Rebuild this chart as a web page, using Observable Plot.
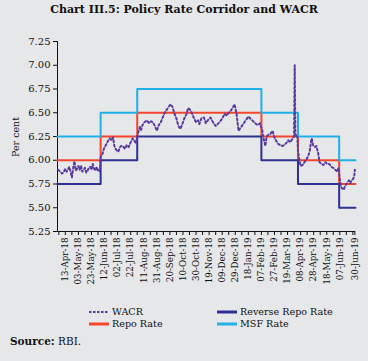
<!DOCTYPE html>
<html>
<head>
<meta charset="utf-8">
<script src="https://cdn.jsdelivr.net/npm/d3@7"></script>
<script src="https://cdn.jsdelivr.net/npm/@observablehq/plot@0.6"></script>
<style>
  html, body { margin: 0; padding: 0; background: #e6e7e9; }
  #wrap { position: relative; width: 368px; height: 361px; background: #e6e7e9; overflow: hidden; font-family: "DejaVu Serif", serif; color: #111; }
  #title { position: absolute; left: 0; width: 368px; top: 3px; text-align: center; font-weight: bold; font-size: 11px; }
  #chart { position: absolute; left: 0; top: 22px; }
  #ylab { position: absolute; left: 15px; top: 137px; transform: translate(-50%, -50%) rotate(-90deg); font-size: 9.5px; white-space: nowrap; }
  .leg { position: absolute; font-size: 9.6px; white-space: nowrap; display: flex; align-items: center; }
  .leg svg { margin-right: 3px; }
  #source { position: absolute; left: 10px; top: 335px; font-size: 10.5px; }
</style>
</head>
<body>
<div id="wrap">
  <div id="title">Chart III.5: Policy Rate Corridor and WACR</div>
  <div id="ylab">Per cent</div>
  <div id="chart"></div>
  <div id="legend"></div>
  <div id="source"><b>Source:</b> RBI.</div>
</div>
<script>
// ---- Data ----
const wacrDates = [
  "2018-04-02","2018-04-05","2018-04-08","2018-04-10","2018-04-13","2018-04-15","2018-04-17","2018-04-19","2018-04-21","2018-04-23",
  "2018-04-25","2018-04-27","2018-04-29","2018-05-01","2018-05-03","2018-05-05","2018-05-07","2018-05-09","2018-05-11","2018-05-13",
  "2018-05-15","2018-05-17","2018-05-19","2018-05-21","2018-05-23","2018-05-25","2018-05-27","2018-05-29","2018-05-31","2018-06-02",
  "2018-06-04","2018-06-05",
  "2018-06-06","2018-06-09","2018-06-11","2018-06-14","2018-06-17","2018-06-20","2018-06-23","2018-06-25","2018-06-27","2018-06-29",
  "2018-07-01","2018-07-03","2018-07-05","2018-07-07","2018-07-10","2018-07-13","2018-07-16","2018-07-19","2018-07-22","2018-07-25",
  "2018-07-28","2018-07-30","2018-07-31",
  "2018-08-02","2018-08-05","2018-08-07","2018-08-09","2018-08-12","2018-08-16","2018-08-19","2018-08-22","2018-08-25","2018-08-28",
  "2018-08-31","2018-09-03","2018-09-06","2018-09-09","2018-09-12","2018-09-15","2018-09-18","2018-09-21","2018-09-24","2018-09-27",
  "2018-09-30","2018-10-03","2018-10-06","2018-10-09","2018-10-12","2018-10-15","2018-10-18","2018-10-21","2018-10-24","2018-10-27",
  "2018-10-30","2018-11-02","2018-11-04","2018-11-07","2018-11-11","2018-11-14","2018-11-17","2018-11-21","2018-11-25","2018-11-29",
  "2018-12-02","2018-12-05","2018-12-09","2018-12-13","2018-12-16","2018-12-19","2018-12-22","2018-12-25","2018-12-28","2018-12-31",
  "2019-01-03","2019-01-06","2019-01-09","2019-01-12","2019-01-15","2019-01-18","2019-01-21","2019-01-24","2019-01-27","2019-01-30",
  "2019-02-02","2019-02-05","2019-02-06",
  "2019-02-08","2019-02-10","2019-02-13","2019-02-15","2019-02-18","2019-02-21","2019-02-24","2019-02-27","2019-03-02","2019-03-05",
  "2019-03-08","2019-03-11","2019-03-14","2019-03-17","2019-03-20","2019-03-23","2019-03-26","2019-03-29","2019-03-30","2019-03-31",
  "2019-04-02","2019-04-03",
  "2019-04-04","2019-04-06","2019-04-08","2019-04-11","2019-04-14","2019-04-17","2019-04-20","2019-04-22","2019-04-24","2019-04-25",
  "2019-04-27","2019-04-30","2019-05-02","2019-05-05","2019-05-07","2019-05-10","2019-05-13","2019-05-16","2019-05-19","2019-05-22",
  "2019-05-25","2019-05-28","2019-05-31","2019-06-03","2019-06-05",
  "2019-06-07","2019-06-09","2019-06-11","2019-06-13","2019-06-15","2019-06-18","2019-06-21","2019-06-23","2019-06-25","2019-06-27",
  "2019-06-29","2019-06-30"
];
const wacrValues = [
  5.90,5.88,5.86,5.87,5.91,5.88,5.90,5.93,5.88,5.82,
  5.92,5.99,5.89,5.91,5.94,5.90,5.94,5.88,5.90,5.92,
  5.87,5.89,5.92,5.93,5.90,5.96,5.91,5.89,5.93,5.89,
  5.88,5.91,
  6.03,6.07,6.12,6.16,6.20,6.23,6.21,6.24,6.15,6.12,
  6.10,6.09,6.13,6.15,6.15,6.12,6.16,6.14,6.19,6.23,
  6.20,6.18,6.21,
  6.28,6.35,6.32,6.37,6.40,6.42,6.39,6.41,6.40,6.36,
  6.31,6.37,6.40,6.45,6.50,6.53,6.56,6.59,6.56,6.49,
  6.44,6.36,6.33,6.38,6.44,6.48,6.55,6.53,6.49,6.44,
  6.40,6.42,6.38,6.44,6.45,6.39,6.42,6.45,6.40,6.36,
  6.38,6.40,6.44,6.49,6.47,6.50,6.52,6.55,6.59,6.49,
  6.31,6.34,6.37,6.40,6.43,6.46,6.44,6.42,6.40,6.38,
  6.37,6.39,6.36,
  6.33,6.24,6.15,6.25,6.27,6.28,6.31,6.24,6.20,6.17,
  6.16,6.15,6.16,6.18,6.21,6.19,6.22,6.25,7.00,6.28,
  6.24,6.25,
  6.10,6.01,5.94,5.95,5.98,6.01,6.05,6.10,6.20,6.23,
  6.16,6.14,6.15,6.07,5.98,5.96,5.95,5.98,5.96,5.96,
  5.93,5.92,5.90,5.88,5.92,
  5.80,5.72,5.70,5.69,5.73,5.76,5.79,5.76,5.79,5.80,
  5.83,5.90
];

const policyDates = ["2018-04-01","2018-06-06","2018-08-01","2019-02-07","2019-04-04","2019-06-06","2019-07-01"];
const repoRate        = [6.00, 6.25, 6.50, 6.25, 6.00, 5.75, 5.75];
const reverseRepoRate = [5.75, 6.00, 6.25, 6.00, 5.75, 5.50, 5.50];
const msfRate         = [6.25, 6.50, 6.75, 6.50, 6.25, 6.00, 6.00];

const xTickLabels = ["13-Apr-18","03-May-18","23-May-18","12-Jun-18","02-Jul-18","22-Jul-18","11-Aug-18","31-Aug-18","20-Sep-18","10-Oct-18","30-Oct-18","19-Nov-18","09-Dec-18","29-Dec-18","18-Jan-19","07-Feb-19","27-Feb-19","19-Mar-19","08-Apr-19","28-Apr-19","18-May-19","07-Jun-19","30-Jun-19"];
const yTicks = [5.25, 5.50, 5.75, 6.00, 6.25, 6.50, 6.75, 7.00, 7.25];

const seriesNames = ["WACR", "Reverse Repo Rate", "Repo Rate", "MSF Rate"];
const colors = {"WACR": "#5b3a9e", "Reverse Repo Rate": "#2e3192", "Repo Rate": "#f5452c", "MSF Rate": "#1fb1e6"};

// ---- Build ----
const parse = d3.utcParse("%Y-%m-%d");
const parseLbl = d3.utcParse("%d-%b-%y");
const fmt = d3.utcFormat("%d-%b-%y");

const wacr = wacrDates.map((d, i) => ({date: parse(d), value: wacrValues[i]}));
const policy = [];
[["Repo Rate", repoRate], ["Reverse Repo Rate", reverseRepoRate], ["MSF Rate", msfRate]].forEach(([name, arr]) => {
  policyDates.forEach((d, i) => policy.push({series: name, date: parse(d), value: arr[i]}));
});

const labelDates = xTickLabels.map(parseLbl);
const labelSet = new Set(labelDates.map(d => +d));
const allTicks = [];
const start = d3.utcDay.offset(labelDates[0], -10);
for (let d = start; d < labelDates[labelDates.length - 1]; d = d3.utcDay.offset(d, 10)) allTicks.push(d);
allTicks.push(labelDates[labelDates.length - 1]);

const x0 = parse("2018-04-01"), x1 = parse("2019-07-01");

const chart = Plot.plot({
  width: 368,
  height: 276,
  marginLeft: 57,
  marginRight: 13,
  marginTop: 19,
  marginBottom: 67,
  style: {background: "transparent", fontFamily: "DejaVu Serif, serif", color: "#111"},
  x: {type: "utc", domain: [x0, x1]},
  y: {domain: [5.25, 7.25]},
  marks: [
    Plot.axisY({ticks: yTicks, tickFormat: d3.format(".2f"), tickSize: 4, tickPadding: 3, fontSize: 10, label: null}),
    Plot.axisX({ticks: allTicks, tickFormat: d => labelSet.has(+d) ? fmt(d) : "", tickRotate: -90, tickSize: 4, tickPadding: 2, fontSize: 8.7, label: null}),
    Plot.ruleX([x0], {stroke: "#111", strokeWidth: 1}),
    Plot.ruleY([5.25], {stroke: "#111", strokeWidth: 1}),
    Plot.line(policy, {x: "date", y: "value", z: "series", stroke: d => colors[d.series], strokeWidth: 2, curve: "step-after"}),
    Plot.line(wacr, {x: "date", y: "value", stroke: colors["WACR"], strokeWidth: 2, strokeDasharray: "2,2.4"})
  ]
});
document.getElementById("chart").appendChild(chart);

// ---- Legend ----
const legendPos = [
  {name: "WACR", left: 89, top: 306, dash: "2.5,1.5", w: 2},
  {name: "Reverse Repo Rate", left: 217, top: 306, dash: null, w: 3},
  {name: "Repo Rate", left: 89, top: 318, dash: null, w: 3},
  {name: "MSF Rate", left: 217, top: 318, dash: null, w: 3}
];
const legend = document.getElementById("legend");
legendPos.forEach(p => {
  const div = document.createElement("div");
  div.className = "leg";
  div.style.left = p.left + "px";
  div.style.top = p.top + "px";
  div.innerHTML = `<svg width="20" height="10"><line x1="0" x2="20" y1="5" y2="5" stroke="${colors[p.name]}" stroke-width="${p.w}" ${p.dash ? `stroke-dasharray="${p.dash}"` : ""}/></svg><span>${p.name}</span>`;
  legend.appendChild(div);
});
</script>
</body>
</html>
